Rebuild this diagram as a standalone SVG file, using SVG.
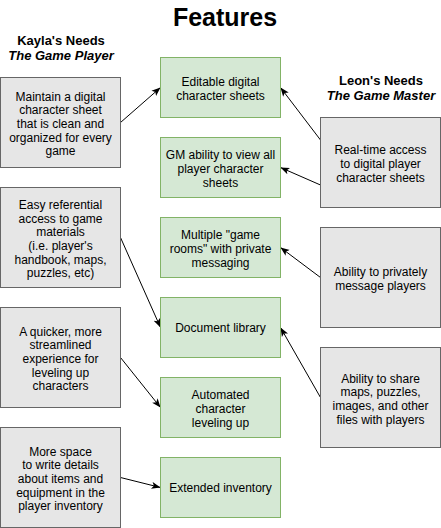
<svg xmlns="http://www.w3.org/2000/svg" width="441" height="528" viewBox="0 0 441 528">
<style>
text{font-family:"Liberation Sans",Arial,Helvetica,sans-serif;fill:#000;text-anchor:middle}
.t{font-size:12px}
.h{font-size:13px;font-weight:bold}
.hi{font-size:13px;font-weight:bold;font-style:italic}
.title{font-size:25px;font-weight:bold}
.need{fill:#E6E6E6;stroke:#666666;stroke-width:1}
.feat{fill:#D5E8D4;stroke:#82B366;stroke-width:1}
.con{stroke:#000;stroke-width:1;fill:none;marker-end:url(#arr)}
</style>
<defs>
<marker id="arr" markerWidth="9" markerHeight="8" viewBox="0 0 9 8" refX="9" refY="4" orient="auto" markerUnits="userSpaceOnUse">
<path d="M0,0.5 L9,4 L0,7.5 L2.2,4 z" fill="#000"/>
</marker>
</defs>
<rect width="441" height="528" fill="#fff"/>
<g id="headers">
<text class="title" x="225" y="26">Features</text>
<text class="h" x="61" y="45">Kayla's Needs</text>
<text class="hi" x="61" y="59.5">The Game Player</text>
<text class="h" x="381" y="85">Leon's Needs</text>
<text class="hi" x="381" y="99.5">The Game Master</text>
</g>
<g id="connectors">
<line class="con" x1="120.5" y1="122.5" x2="160.5" y2="87.5"/>
<line class="con" x1="320.5" y1="140" x2="280.5" y2="87.5"/>
<line class="con" x1="320.5" y1="185" x2="280.5" y2="167.5"/>
<line class="con" x1="120.5" y1="237.5" x2="160.5" y2="327.5"/>
<line class="con" x1="320.5" y1="277.5" x2="280.5" y2="247.5"/>
<line class="con" x1="320.5" y1="397.5" x2="280.5" y2="327.5"/>
<line class="con" x1="120.5" y1="357.5" x2="160.5" y2="407.5"/>
<line class="con" x1="120.5" y1="477.5" x2="160.5" y2="487.5"/>
</g>
<g id="kayla1">
<rect class="need" x="0.5" y="77.5" width="120" height="90"/>
<text class="t" x="60.5"><tspan x="60.5" y="100.6">Maintain a digital</tspan><tspan x="60.5" y="114.3">character sheet</tspan><tspan x="60.5" y="128">that is clean and</tspan><tspan x="60.5" y="141.7">organized for every</tspan><tspan x="60.5" y="155.4">game</tspan></text>
</g>
<g id="kayla2">
<rect class="need" x="0.5" y="187.5" width="120" height="100"/>
<text class="t"><tspan x="60.5" y="208.8">Easy referential</tspan><tspan x="60.5" y="222.5">access to game</tspan><tspan x="60.5" y="236.2">materials</tspan><tspan x="60.5" y="249.9">(i.e. player's</tspan><tspan x="60.5" y="263.6">handbook, maps,</tspan><tspan x="60.5" y="277.3">puzzles, etc)</tspan></text>
</g>
<g id="kayla3">
<rect class="need" x="0.5" y="307.5" width="120" height="100"/>
<text class="t"><tspan x="60.5" y="335.6">A quicker, more</tspan><tspan x="60.5" y="349.3">streamlined</tspan><tspan x="60.5" y="363">experience for</tspan><tspan x="60.5" y="376.7">leveling up</tspan><tspan x="60.5" y="390.4">characters</tspan></text>
</g>
<g id="kayla4">
<rect class="need" x="0.5" y="427.5" width="120" height="100"/>
<text class="t"><tspan x="60.5" y="455.6">More space</tspan><tspan x="60.5" y="469.3">to write details</tspan><tspan x="60.5" y="483">about items and</tspan><tspan x="60.5" y="496.7">equipment in the</tspan><tspan x="60.5" y="510.4">player inventory</tspan></text>
</g>
<g id="feat1">
<rect class="feat" x="160.5" y="57.5" width="120" height="60"/>
<text class="t"><tspan x="220.5" y="86.2">Editable digital</tspan><tspan x="220.5" y="99.9">character sheets</tspan></text>
</g>
<g id="feat2">
<rect class="feat" x="160.5" y="137.5" width="120" height="60"/>
<text class="t"><tspan x="220.5" y="159.3">GM ability to view all</tspan><tspan x="220.5" y="173">player character</tspan><tspan x="220.5" y="186.7">sheets</tspan></text>
</g>
<g id="feat3">
<rect class="feat" x="160.5" y="217.5" width="120" height="60"/>
<text class="t"><tspan x="220.5" y="239.3">Multiple "game</tspan><tspan x="220.5" y="253">rooms" with private</tspan><tspan x="220.5" y="266.7">messaging</tspan></text>
</g>
<g id="feat4">
<rect class="feat" x="160.5" y="297.5" width="120" height="60"/>
<text class="t" x="220.5" y="332">Document library</text>
</g>
<g id="feat5">
<rect class="feat" x="160.5" y="377.5" width="120" height="60"/>
<text class="t"><tspan x="220.5" y="399.3">Automated</tspan><tspan x="220.5" y="413">character</tspan><tspan x="220.5" y="426.7">leveling up</tspan></text>
</g>
<g id="feat6">
<rect class="feat" x="160.5" y="457.5" width="120" height="60"/>
<text class="t" x="220.5" y="492">Extended inventory</text>
</g>
<g id="leon1">
<rect class="need" x="320.5" y="117.5" width="120" height="90"/>
<text class="t"><tspan x="380.5" y="154.3">Real-time access</tspan><tspan x="380.5" y="168">to digital player</tspan><tspan x="380.5" y="181.7">character sheets</tspan></text>
</g>
<g id="leon2">
<rect class="need" x="320.5" y="227.5" width="120" height="100"/>
<text class="t"><tspan x="380.5" y="276.2">Ability to privately</tspan><tspan x="380.5" y="289.9">message players</tspan></text>
</g>
<g id="leon3">
<rect class="need" x="320.5" y="347.5" width="120" height="100"/>
<text class="t"><tspan x="380.5" y="382.5">Ability to share</tspan><tspan x="380.5" y="396.2">maps, puzzles,</tspan><tspan x="380.5" y="409.9">images, and other</tspan><tspan x="380.5" y="423.6">files with players</tspan></text>
</g>
</svg>
